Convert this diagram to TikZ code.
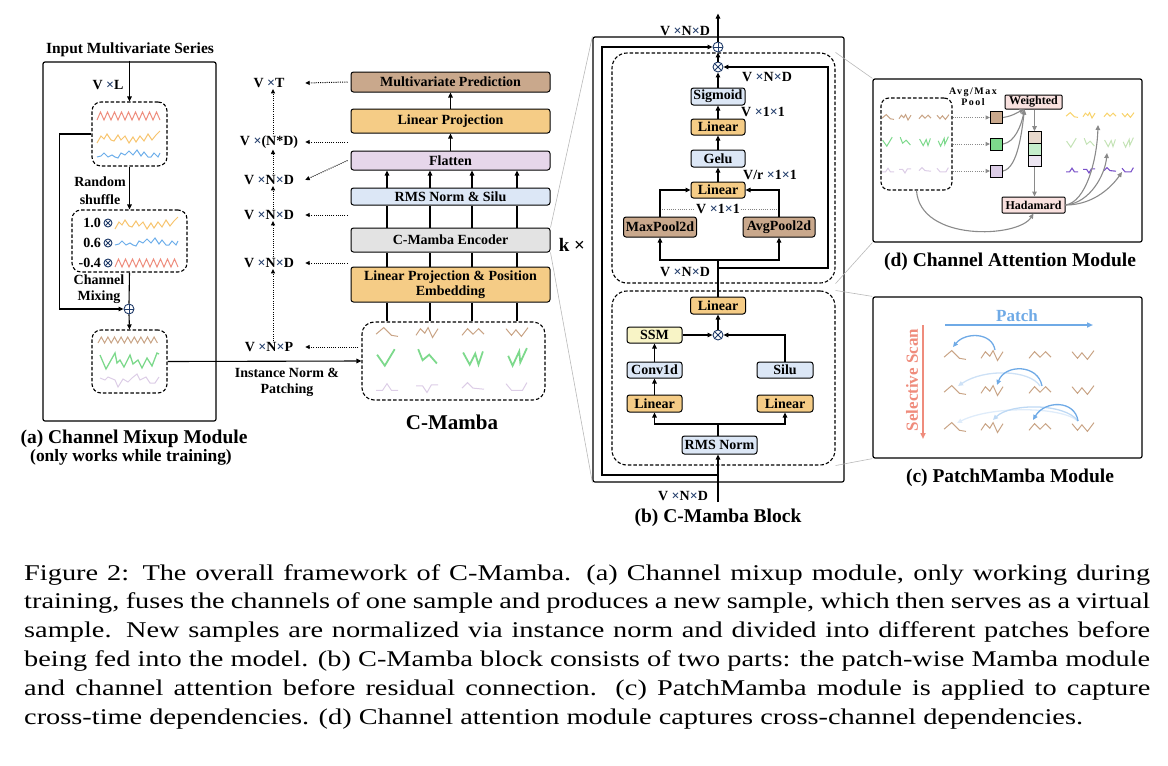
\documentclass[tikz,border=0pt]{standalone}
\usepackage{fontspec}
\setmainfont{Liberation Serif}
\newfontfamily\capfont[FakeStretch=1.26]{Liberation Serif}
\usetikzlibrary{arrows.meta,positioning}

\definecolor{navy}{HTML}{1F3A68}
\definecolor{cbrown}{HTML}{C9A88C}
\definecolor{corange}{HTML}{F5CC86}
\definecolor{clav}{HTML}{E6D6EA}
\definecolor{cblue}{HTML}{DCE7F6}
\definecolor{cgray}{HTML}{E3E3E3}
\definecolor{cyel}{HTML}{F8F4C6}
\definecolor{cpink}{HTML}{F9E1DF}
\definecolor{cgr}{HTML}{8A8A8A}
\definecolor{wavred}{HTML}{EE8E7E}
\definecolor{wavorg}{HTML}{F7C46E}
\definecolor{wavblu}{HTML}{6DAEEA}
\definecolor{wavbrn}{HTML}{C9A486}
\definecolor{wavgrn}{HTML}{7DD98C}
\definecolor{wavlav}{HTML}{DCCDE6}
\definecolor{wavyel}{HTML}{F8D36C}
\definecolor{wavlgr}{HTML}{C4E3B6}
\definecolor{wavpur}{HTML}{7A52C9}
\definecolor{patchblue}{HTML}{6FAAE6}
\definecolor{scanred}{HTML}{EF8C7C}

\newcommand{\tms}{{\color{navy}×}}

\tikzset{
  every node/.style={font=\bfseries\fontsize{14}{16}\selectfont},
  unit/.style={draw, line width=1pt, rounded corners=2.5pt, inner sep=0pt},
  panel/.style={draw, line width=1.2pt, rounded corners=2pt, inner sep=0pt},
  dbox/.style={draw, line width=1.1pt, dash pattern=on 3.5pt off 2pt, rounded corners=9pt, inner sep=0pt},
  lab/.style={inner sep=1pt},
  wire/.style={line width=1.1pt},
  arr/.style={wire, -{Triangle[length=5pt,width=4.5pt]}},
  darr/.style={line width=1pt, dash pattern=on 1pt off 1.2pt, -{Triangle[length=4.5pt,width=4pt]}},
  dline/.style={line width=0.8pt, draw=gray, dash pattern=on 1pt off 1.2pt},
  garr/.style={line width=1.1pt, draw=cgr, -{Triangle[length=5pt,width=4.5pt]}},
  gdarr/.style={darr, draw=cgr},
  link/.style={draw=gray!55, line width=0.6pt},
  opl/.style={circle, draw=navy, line width=0.9pt, fill=white, minimum size=10pt, inner sep=0pt,
    path picture={\draw[navy, line width=0.9pt] (path picture bounding box.north) -- (path picture bounding box.south)
      (path picture bounding box.west) -- (path picture bounding box.east);}},
  otm/.style={circle, draw=navy, line width=0.9pt, fill=white, minimum size=10pt, inner sep=0pt,
    path picture={\draw[navy, line width=0.9pt] (path picture bounding box.north west) -- (path picture bounding box.south east)
      (path picture bounding box.north east) -- (path picture bounding box.south west);}},
  sq/.style={draw, line width=1pt, minimum size=12pt, inner sep=0pt},
  cell/.style={draw, line width=1pt, minimum width=13pt, minimum height=11.7pt, inner sep=0pt},
  small/.style={font=\bfseries\fontsize{12}{13}\selectfont},
  subcap/.style={font=\bfseries\fontsize{19.5}{22}\selectfont},
  capline/.style={anchor=base west, inner sep=0pt, font=\capfont\fontsize{22.5}{29}\selectfont},
  wred/.style={draw=wavred, line width=1pt},
  worg/.style={draw=wavorg, line width=1pt},
  wblu/.style={draw=wavblu, line width=1pt},
  wbrn/.style={draw=wavbrn, line width=1pt},
  wgrn/.style={draw=wavgrn, line width=1pt},
  wgrnt/.style={draw=wavgrn, line width=1.8pt},
  wlav/.style={draw=wavlav, line width=1pt},
  wyel/.style={draw=wavyel, line width=1pt},
  wlgr/.style={draw=wavlgr, line width=1pt},
  wpur/.style={draw=wavpur, line width=1.1pt},
  barr/.style={line width=1.3pt, draw=#1, -{Triangle[length=5pt,width=4.5pt]}},
}

% long series (panel a)
\newcommand{\serred}[1]{\draw[wred, shift={(#1)}] (0,4) \foreach \i in {1,...,9} {-- ++(3.5,-8) -- ++(3.5,8)};}
\newcommand{\serorg}[1]{\draw[worg, shift={(#1)}] (0,6) -- (4,-1) -- (7,2) -- (10,-3) -- (14,3) -- (17,4) -- (21,-2) -- (24,3) -- (28,-1) -- (32,6) -- (36,0) -- (39,5) -- (43,-1) -- (47,4) -- (51,-3) -- (55,3) -- (59,-2) -- (63,-6);}
\newcommand{\serblu}[1]{\draw[wblu, shift={(#1)}] (0,2) -- (4,1) -- (7,-2) -- (11,2) -- (15,0) -- (18,2) -- (21,3) -- (24,-2) -- (28,0) -- (32,-4) -- (36,0) -- (40,-5) -- (44,1) -- (47,-3) -- (51,2) -- (54,2) -- (57,-2) -- (61,2) -- (63,-2);}

% short patches
\newcommand{\pzA}[3]{\draw[#2, shift={(#1)}, scale=#3] (-10,2) -- (-3,-4) -- (4,3) -- (10,4);}
\newcommand{\pzB}[3]{\draw[#2, shift={(#1)}, scale=#3] (-10,3) -- (-6,-3) -- (-2,1) -- (1,-4) -- (5,5) -- (10,-3);}
\newcommand{\pzC}[3]{\draw[#2, shift={(#1)}, scale=#3] (-10,3) -- (-5,-3) -- (0,2) -- (5,-3) -- (10,2);}
\newcommand{\pzD}[3]{\draw[#2, shift={(#1)}, scale=#3] (-10,-3) -- (-5,3) -- (-1,-2) -- (4,4) -- (10,-4);}
\newcommand{\gzA}[3]{\draw[#2, shift={(#1)}, scale=#3] (-9,-3) -- (-2,7) -- (7,-8);}
\newcommand{\gzB}[3]{\draw[#2, shift={(#1)}, scale=#3] (-8,-8) -- (-4,2) -- (2,-3) -- (9,5);}
\newcommand{\gzC}[3]{\draw[#2, shift={(#1)}, scale=#3] (-9,-5) -- (-3,6) -- (2,-4) -- (5,6) -- (9,-6);}
\newcommand{\gzD}[3]{\draw[#2, shift={(#1)}, scale=#3] (-8,-2) -- (-4,7) -- (2,-6) -- (3,4) -- (9,-9);}
\newcommand{\lzA}[3]{\draw[#2, shift={(#1)}, scale=#3] (-10,3) -- (-4,3) -- (0,-3) -- (4,3) -- (10,3);}
\newcommand{\lzB}[3]{\draw[#2, shift={(#1)}, scale=#3] (-10,-1) -- (-4,-1) -- (0,5) -- (4,-2) -- (10,-2);}
\newcommand{\lzC}[3]{\draw[#2, shift={(#1)}, scale=#3] (-10,1) -- (-5,-4) -- (0,1) -- (10,2);}
\newcommand{\lzD}[3]{\draw[#2, shift={(#1)}, scale=#3] (-10,-3) -- (-5,3) -- (5,3) -- (9,-4);}

\begin{document}
\begin{tikzpicture}[x=1pt,y=-1pt]
  \useasboundingbox (0,0) rectangle (1168,766);

  % (a) channel mixup module
  \node[panel, minimum width=173pt, minimum height=359pt] (pa) at (129.5,241.5) {};
  \node[font=\bfseries\fontsize{15.5}{17}\selectfont] (inp) at (130,50) {Input Multivariate Series};
  \node[lab] (vl) at (108,85) {V \tms L};
  \node[dbox, minimum width=75pt, minimum height=64pt] (s1) at (129.5,134) {};
  \node[dbox, minimum width=115pt, minimum height=62pt] (s2) at (129.5,241) {};
  \node[opl] (add1) at (129,309) {};
  \node[dbox, minimum width=75pt, minimum height=63pt] (s3) at (129.5,361.5) {};
  \node[align=center, font=\bfseries\fontsize{14}{18}\selectfont] (rs) at (100,191) {Random\\shuffle};
  \node[align=center, font=\bfseries\fontsize{14}{16.5}\selectfont] (cmix) at (99,289) {Channel\\Mixing};
  \node[lab, anchor=east] (k1) at (102,223) {1.0};
  \node[lab, anchor=east] (k2) at (102,243) {0.6};
  \node[lab, anchor=east] (k3) at (102,263) {-0.4};
  \node[otm, minimum size=8pt] (m1) at (108,223) {};
  \node[otm, minimum size=8pt] (m2) at (108,243) {};
  \node[otm, minimum size=8pt] (m3) at (108,263) {};
  \draw[arr] (inp.south -| s1.north) -- (s1.north);
  \draw[arr] (s1.south) -- (s2.north);
  \draw[wire] (s2.south) -- (add1.north);
  \draw[arr] (add1.south) -- (s3.north);
  \draw[arr] (s1.west) -- ++(-32,0) |- (add1.west); % skip path
  \serred{97,116} \serorg{97,137} \serblu{97,155}
  \serorg{115,223} \serblu{115,243} \serred{115,263}
  \draw[wbrn] (98,343) \foreach \i in {1,...,9} {-- ++(3.3,-6) -- ++(3.3,6)};
  \draw[wgrn, line width=1.3pt] (100,355) -- (106,369) -- (115,353) -- (117,363) -- (120,360) -- (124,367) -- (130,355) -- (133,364) -- (138,360) -- (142,368) -- (147,358) -- (152,366) -- (157,353) -- (159,354);
  \draw[wlav] (100,378) -- (105,380) -- (108,377) -- (115,380) -- (118,387) -- (123,379) -- (128,382) -- (132,378) -- (137,374) -- (140,380) -- (146,377) -- (150,383) -- (155,383) -- (159,377);
  \node[subcap] (capa) at (134,439) {(a) Channel Mixup Module};
  \node[font=\bfseries\fontsize{17.4}{19}\selectfont] (capa2) at (131,457) {(only works while training)};

  % C-Mamba stack
  \node[unit, fill=cbrown, minimum width=199pt, minimum height=20pt] (mp) at (450.5,82) {Multivariate Prediction};
  \node[unit, fill=corange, minimum width=199pt, minimum height=24pt] (lp) at (450.5,121) {Linear Projection};
  \node[unit, fill=clav, minimum width=199pt, minimum height=19pt] (fl) at (450.5,160.5) {Flatten};
  \node[unit, fill=cblue, minimum width=199pt, minimum height=17pt] (rn) at (450.5,196.5) {RMS Norm \& Silu};
  \node[unit, fill=cgray, minimum width=199pt, minimum height=24pt] (enc) at (450.5,240) {C-Mamba Encoder};
  \node[unit, fill=corange, minimum width=199pt, minimum height=35pt, align=center,
    font=\bfseries\fontsize{14}{15}\selectfont] (lpe) at (450.5,284.5) {Linear Projection \& Position\\Embedding};
  \node[dbox, rounded corners=12pt, minimum width=183pt, minimum height=78pt] (pt) at (453.5,361) {};
  \node[font=\bfseries\fontsize{21}{24}\selectfont] (cmt) at (452,422) {C-Mamba};
  \foreach \x in {387,430,472,517} {
    \coordinate (cx) at (\x,0);
    \draw[wire] (pt.north -| cx) -- (lpe.south -| cx);
    \draw[wire] (lpe.north -| cx) -- (enc.south -| cx);
    \draw[wire] (enc.north -| cx) -- (rn.south -| cx);
    \draw[arr] (rn.north -| cx) -- (fl.south -| cx);
  }
  \draw[arr] (fl.north) -- (lp.south);
  \draw[arr] (lp.north) -- (mp.south);
  \draw[arr] (s3.east) -- (pt.west);
  \node[align=center] (inorm) at (287,382) {Instance Norm \&\\Patching};
  \pzA{387,332}{wbrn}{1.1} \pzB{427,332}{wbrn}{1.1} \pzC{473,332}{wbrn}{1.1} \pzD{517,332}{wbrn}{1.1}
  \gzA{387,358}{wgrnt}{1.1} \gzB{427,358}{wgrnt}{1.1} \gzC{473,358}{wgrnt}{1.1} \gzD{517,358}{wgrnt}{1.1}
  \lzA{387,387}{wlav}{1.1} \lzB{427,387}{wlav}{1.1} \lzC{473,387}{wlav}{1.1} \lzD{517,387}{wlav}{1.1}

  % shape labels
  \node[lab, minimum width=72pt] (dT) at (269,83) {V \tms T};
  \node[lab, minimum width=72pt] (dND1) at (269,142) {V \tms(N*D)};
  \node[lab, minimum width=72pt] (dND2) at (269,180) {V \tms N\tms D};
  \node[lab, minimum width=72pt] (dND3) at (269,215) {V \tms N\tms D};
  \node[lab, minimum width=72pt] (dND4) at (269,263) {V \tms N\tms D};
  \node[lab, minimum width=72pt] (dNP) at (269,347) {V \tms N\tms P};
  \draw[darr] ([xshift=-3pt]mp.west) -- (dT.east);
  \draw[darr] ([xshift=-3pt]mp.west |- dND1.east) -- (dND1.east);
  \draw[darr] ([xshift=-3pt]fl.west) -- (dND2.east);
  \draw[darr] ([xshift=-3pt]rn.west |- dND3.east) -- (dND3.east);
  \draw[darr] ([xshift=-3pt]lpe.west |- dND4.east) -- (dND4.east);
  \draw[darr] ([xshift=-3pt]pt.west |- dNP.east) -- (dNP.east);
  \coordinate (vx) at (273,0);
  \draw[darr] (dNP.north -| vx) -- (dND4.south -| vx);
  \draw[darr] (dND4.north -| vx) -- (dND3.south -| vx);
  \draw[darr] (dND3.north -| vx) -- (dND2.south -| vx);
  \draw[darr] (dND2.north -| vx) -- (dND1.south -| vx);
  \draw[darr] (dND1.north -| vx) -- (dT.south -| vx);
  \node[font=\bfseries\fontsize{19}{20}\selectfont] (kx) at (572,245) {k ×};

  % (b) C-Mamba block
  \node[panel, minimum width=251pt, minimum height=445pt] (blk) at (718.5,259.5) {};
  \node[dbox, rounded corners=15pt, minimum width=223pt, minimum height=230pt] (ca) at (723.5,168) {};
  \node[dbox, rounded corners=15pt, minimum width=223pt, minimum height=174pt] (pm) at (723.5,378) {};
  \draw[link] (enc.north east) -- (blk.north west);
  \draw[link] (enc.south east) -- (blk.south west);
  \node[opl] (addT) at (718,47) {};
  \node[otm] (mulT) at (718,67) {};
  \node[unit, fill=cblue, minimum width=54pt, minimum height=17pt] (sig) at (718,96.5) {Sigmoid};
  \node[unit, fill=corange, minimum width=54pt, minimum height=16pt] (lin2) at (718,127) {Linear};
  \node[unit, fill=cblue, minimum width=54pt, minimum height=17pt] (gelu) at (718,158.5) {Gelu};
  \node[unit, fill=corange, minimum width=54pt, minimum height=16pt] (lin1) at (718,190) {Linear};
  \node[unit, fill=cbrown, minimum width=73pt, minimum height=20pt] (maxp) at (660,227) {MaxPool2d};
  \node[unit, fill=cbrown, minimum width=72pt, minimum height=20pt] (avgp) at (779,227) {AvgPool2d};
  \node[lab] (ltop) at (685,31) {V \tms N\tms D};
  \node[lab] (lmul) at (767,77) {V \tms N\tms D};
  \node[lab] (lsig) at (763,112) {V \tms 1\tms 1};
  \node[lab] (lgel) at (770,175) {V/r \tms 1\tms 1};
  \node[lab, fill=white] (lpool) at (718,209) {V \tms 1\tms 1};
  \node[lab] (lin) at (685,272) {V \tms N\tms D};
  \draw[dline] (maxp.north |- lpool.west) -- (lpool.west);
  \draw[dline] (lpool.east) -- (avgp.north |- lpool.east);
  \node[unit, fill=corange, minimum width=55pt, minimum height=17pt] (linP) at (718,305.5) {Linear};
  \node[otm] (mulP) at (718,335) {};
  \node[unit, fill=cyel, minimum width=55pt, minimum height=16pt] (ssm) at (654.5,335) {SSM};
  \node[unit, fill=cblue, minimum width=55pt, minimum height=16pt] (conv) at (654.5,370) {Conv1d};
  \node[unit, fill=corange, minimum width=55pt, minimum height=17pt] (linL) at (654.5,403.5) {Linear};
  \node[unit, fill=cblue, minimum width=56pt, minimum height=16pt] (silu) at (785,370) {Silu};
  \node[unit, fill=corange, minimum width=56pt, minimum height=17pt] (linR) at (785,403.5) {Linear};
  \node[unit, fill=cblue, minimum width=75pt, minimum height=18pt] (rmsn) at (719.5,445) {RMS Norm};
  \node[lab] (lbot) at (683,496) {V \tms N\tms D};
  \node[subcap] (capb) at (718,518) {(b) C-Mamba Block};
  \coordinate (bin) at (718,502);
  \coordinate (jres) at (718,475);
  \coordinate (rl) at (602,475);
  \coordinate (js) at (718,424);
  \coordinate (jp) at (718,260);
  \coordinate (jr) at (718,268);
  \coordinate (cr) at (828,268);
  \draw[arr] (bin) -- (js |- rmsn.south);
  \draw[arr] (jres) -- (rl) |- (addT.west); % residual
  \draw[wire] (js |- rmsn.north) -- (js);
  \draw[arr] (js) -| (linL.south);
  \draw[arr] (js) -| (linR.south);
  \draw[arr] (linL) -- (conv);
  \draw[arr] (conv) -- (ssm);
  \draw[arr] (ssm) -- (mulP);
  \draw[arr] (silu.north) |- (mulP.east);
  \draw[arr] (mulP) -- (linP);
  \draw[wire] (linP.north) -- (jp);
  \draw[arr] (jp) -| (maxp.south);
  \draw[arr] (jp) -| (avgp.south);
  \draw[arr] (maxp.north) |- (lin1.west);
  \draw[arr] (avgp.north) |- (lin1.east);
  \draw[arr] (lin1) -- (gelu);
  \draw[arr] (gelu) -- (lin2);
  \draw[arr] (lin2) -- (sig);
  \draw[arr] (sig) -- (mulT);
  \draw[arr] (jr) -- (cr) |- (mulT.east);
  \draw[arr] (mulT) -- (addT);
  \draw[arr] (addT.north) -- ++(0,-28);

  % (d) channel attention module
  \node[panel, minimum width=269pt, minimum height=163pt] (dp) at (1007.5,160.5) {};
  \draw[link] (ca.north east) -- (dp.north west);
  \draw[link] (ca.south east) -- (dp.south west);
  \node[dbox, rounded corners=8pt, minimum width=71pt, minimum height=92pt] (dd) at (916.5,144) {};
  \pzA{888,117}{wbrn}{0.6} \pzB{905,117}{wbrn}{0.6} \pzC{925,117}{wbrn}{0.6} \pzD{943,117}{wbrn}{0.6}
  \gzA{888,142}{wgrn}{0.6} \gzB{905,142}{wgrn}{0.6} \gzC{925,142}{wgrn}{0.6} \gzD{943,142}{wgrn}{0.6}
  \lzA{888,170}{wlav}{0.6} \lzB{905,170}{wlav}{0.6} \lzC{925,170}{wlav}{0.6} \lzD{943,170}{wlav}{0.6}
  \node[align=center, font=\bfseries\fontsize{10}{11}\selectfont\addfontfeature{LetterSpace=15}] (pool) at (973,97) {Avg/Max\\Pool};
  \node[sq, fill=cbrown] (q1) at (996.5,117.5) {};
  \node[sq, fill=wavgrn] (q2) at (996.5,144) {};
  \node[sq, fill=wavlav] (q3) at (996.5,171) {};
  \node[unit, small, fill=cpink, rounded corners=1pt, minimum width=57pt, minimum height=14pt] (wt) at (1033.5,102) {Weighted};
  \node[cell, fill=cbrown!45] (v1) at (1034.5,137.5) {};
  \node[cell, fill=wavgrn!45] (v2) at (1034.5,149.2) {};
  \node[cell, fill=wavlav!50] (v3) at (1034.5,160.9) {};
  \node[unit, small, fill=cpink, rounded corners=1pt, minimum width=63pt, minimum height=16pt] (had) at (1033.5,205) {Hadamard};
  \draw[gdarr] (dd.east |- q1.west) -- (q1.west);
  \draw[gdarr] (dd.east |- q2.west) -- (q2.west);
  \draw[gdarr] (dd.east |- q3.west) -- (q3.west);
  \draw[garr] (q1.east) .. controls (1013,116) and (1018,112) .. ([xshift=-9pt]wt.south);
  \draw[garr] (q2.east) .. controls (1015,142) and (1021,126) .. ([xshift=-9pt]wt.south);
  \draw[garr] (q3.east) .. controls (1018,168) and (1022,130) .. ([xshift=-9pt]wt.south);
  \draw[garr] (wt.south -| v1.north) -- (v1.north);
  \draw[garr] (v3.south) -- (had.north -| v3.south);
  \draw[garr] (dd.south) .. controls (920,242) and (1018,238) .. (had.south);
  \pzA{1072,115}{wyel}{0.6} \pzB{1089,115}{wyel}{0.6} \pzC{1110,115}{wyel}{0.6} \pzD{1128,115}{wyel}{0.6}
  \gzA{1072,143}{wlgr}{0.6} \gzB{1089,143}{wlgr}{0.6} \gzC{1110,143}{wlgr}{0.6} \gzD{1128,143}{wlgr}{0.6}
  \lzA{1072,170}{wpur}{0.6} \lzB{1089,170}{wpur}{0.6} \lzC{1110,170}{wpur}{0.6} \lzD{1128,170}{wpur}{0.6}
  \coordinate (o1) at (1098,125);
  \coordinate (o2) at (1107,153);
  \coordinate (o3) at (1122,172);
  \draw[garr] (had.east) .. controls (1086,202) and (1097,160) .. (o1);
  \draw[garr] (had.east) .. controls (1090,203) and (1105,175) .. (o2);
  \draw[garr] (had.east) .. controls (1095,205) and (1113,185) .. (o3);
  \node[subcap] (capd) at (1010,262) {(d) Channel Attention Module};

  % (c) PatchMamba module
  \node[panel, minimum width=269pt, minimum height=161pt] (cp) at (1007.5,377.5) {};
  \draw[link] (pm.north east) -- (cp.north west);
  \draw[link] (pm.south east) -- (cp.south west);
  \node[font=\bfseries\fontsize{17}{18}\selectfont, text=patchblue] (ptl) at (1017,316) {Patch};
  \coordinate (pa1) at (945,325);
  \coordinate (pa2) at (1093,325);
  \draw[line width=1.8pt, draw=patchblue, -{Triangle[length=6pt,width=5pt]}] (pa1) -- (pa2);
  \coordinate (sc1) at (923,325);
  \coordinate (sc2) at (923,439);
  \draw[line width=1.8pt, draw=scanred, -{Triangle[length=6pt,width=5pt]}] (sc1) -- (sc2);
  \node[rotate=90, text=scanred, font=\bfseries\fontsize{17}{18}\selectfont] (scl) at (912,380) {Selective Scan};
  \foreach \y in {355,390,427} {
    \pzA{955,\y}{wbrn}{1.1} \pzB{992,\y}{wbrn}{1.1} \pzC{1040,\y}{wbrn}{1.1} \pzD{1083,\y}{wbrn}{1.1}
  }
  \draw[barr=patchblue] (995,350) .. controls (992,332) and (965,332) .. (953,347);
  \draw[barr=patchblue!35] (1040,386) .. controls (1030,370) and (985,368) .. (958,386);
  \draw[barr=patchblue] (1042,386) .. controls (1038,364) and (1005,364) .. (997,385);
  \draw[barr=patchblue!22] (1078,421) .. controls (1060,406) and (990,406) .. (957,423);
  \draw[barr=patchblue!45] (1078,421) .. controls (1065,403) and (1010,403) .. (993,420);
  \draw[barr=patchblue] (1078,421) .. controls (1075,400) and (1045,400) .. (1033,420);
  \node[subcap] (capc) at (1010,478) {(c) PatchMamba Module};

  % figure caption
  \node[capline] (cap1) at (24,580) {\makebox[1126pt][s]{Figure 2: The overall framework of C-Mamba. (a) Channel mixup module, only working during}};
  \node[capline] (cap2) at (24,608) {\makebox[1126pt][s]{training, fuses the channels of one sample and produces a new sample, which then serves as a virtual}};
  \node[capline] (cap3) at (24,637) {\makebox[1126pt][s]{sample. New samples are normalized via instance norm and divided into different patches before}};
  \node[capline] (cap4) at (24,666) {\makebox[1126pt][s]{being fed into the model. (b) C-Mamba block consists of two parts: the patch-wise Mamba module}};
  \node[capline] (cap5) at (24,695) {\makebox[1126pt][s]{and channel attention before residual connection. (c) PatchMamba module is applied to capture}};
  \node[capline] (cap6) at (24,724) {cross-time dependencies. (d) Channel attention module captures cross-channel dependencies.};
\end{tikzpicture}
\end{document}
